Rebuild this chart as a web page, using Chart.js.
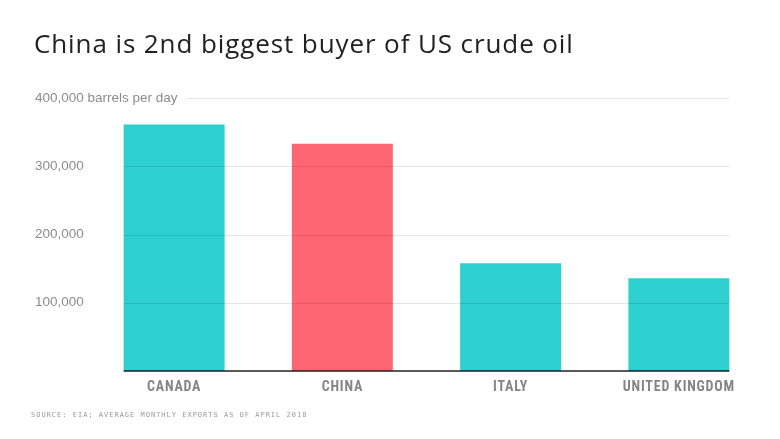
<!DOCTYPE html>
<html>
<head>
<meta charset="utf-8">
<script src="https://cdn.jsdelivr.net/npm/chart.js@4"></script>
<style>
  body { margin: 0; background: #fff; }
  #wrap { position: relative; width: 780px; height: 439px; overflow: hidden; }
  #title { position: absolute; left: 34px; top: 25px; font-family: "Open Sans", sans-serif; font-size: 26px; letter-spacing: 0.9px; color: #222; white-space: nowrap; }
  #source { position: absolute; left: 31px; top: 411px; font-family: "DejaVu Sans Mono", monospace; font-size: 7px; letter-spacing: 1px; color: #999; white-space: nowrap; }
  canvas { position: absolute; left: 0; top: 0; }
</style>
</head>
<body>
<div id="wrap">
  <canvas id="oilChart" width="780" height="439"></canvas>
  <div id="title">China is 2nd biggest buyer of US crude oil</div>
  <div id="source">SOURCE: EIA; AVERAGE MONTHLY EXPORTS AS OF APRIL 2018</div>
</div>
<script>
// Data (barrels per day)
const countries = ['CANADA', 'CHINA', 'ITALY', 'UNITED KINGDOM'];
const exportsPerDay = [361000, 333000, 158000, 136000];
const barColors = ['#2dcfcf', '#fe6673', '#2dcfcf', '#2dcfcf'];
const yTicks = [0, 100000, 200000, 300000, 400000];

const tickFont = { family: '"Liberation Sans", Arial, sans-serif', size: 13.5 };

function tickLabel(v) {
    if (v === 0) return '';
    if (v === 400000) return '400,000 barrels per day';
    return v.toLocaleString('en-US');
}

// category labels are letter-spaced; y labels are drawn later (z: 1) without spacing
const spacing = {
    id: 'spacing',
    beforeDraw(chart) { chart.ctx.letterSpacing = '0.8px'; },
    beforeDatasetsDraw(chart) { chart.ctx.letterSpacing = '0px'; }
};

// grid lines and baseline only span the bars, and sit on top of them
const gridOnTop = {
    id: 'gridOnTop',
    afterDatasetsDraw(chart) {
        const ctx = chart.ctx;
        const y = chart.scales.y;
        const bars = chart.getDatasetMeta(0).data;
        const x0 = bars[0].x - bars[0].width / 2;
        const x1 = bars[bars.length - 1].x + bars[bars.length - 1].width / 2;
        ctx.save();
        ctx.font = tickFont.size + 'px ' + tickFont.family;
        yTicks.forEach(v => {
            const py = Math.round(y.getPixelForValue(v));
            if (v === 0) {
                ctx.strokeStyle = 'rgba(0,0,0,0.65)';
                ctx.lineWidth = 2;
                ctx.beginPath();
                ctx.moveTo(x0, py);
                ctx.lineTo(x1, py);
                ctx.stroke();
                return;
            }
            let start = x0;
            const labelEnd = y.left + ctx.measureText(tickLabel(v)).width + 9;
            if (labelEnd > start) start = labelEnd;
            ctx.strokeStyle = 'rgba(0,0,0,0.1)';
            ctx.lineWidth = 1;
            ctx.beginPath();
            ctx.moveTo(start, py + 0.5);
            ctx.lineTo(x1, py + 0.5);
            ctx.stroke();
        });
        ctx.restore();
    }
};

new Chart(document.getElementById('oilChart'), {
    type: 'bar',
    data: {
        labels: countries,
        datasets: [{
            data: exportsPerDay,
            backgroundColor: barColors,
            borderWidth: 0,
            categoryPercentage: 1,
            barPercentage: 0.6
        }]
    },
    options: {
        responsive: false,
        animation: false,
        layout: { padding: { left: 35, right: 17, top: 98, bottom: 38 } },
        plugins: { legend: { display: false }, tooltip: { enabled: false } },
        scales: {
            x: {
                grid: { display: false, drawTicks: false },
                border: { display: false },
                ticks: {
                    padding: 8,
                    color: '#858585',
                    font: { family: '"Liberation Sans Narrow", "Roboto Condensed", Arial, sans-serif', size: 14, weight: 'bold' }
                },
                afterFit(scale) { scale.height = 30; }
            },
            y: {
                min: 0,
                max: 400000,
                afterBuildTicks(scale) { scale.ticks = yTicks.map(v => ({ value: v })); },
                grid: { display: false, drawTicks: false },
                border: { display: false },
                ticks: {
                    z: 1,
                    mirror: true,
                    crossAlign: 'near',
                    padding: -55,
                    color: '#8c8c8c',
                    font: tickFont,
                    callback: tickLabel
                },
                afterFit(scale) { scale.width = 55; }
            }
        }
    },
    plugins: [spacing, gridOnTop]
});
</script>
</body>
</html>
